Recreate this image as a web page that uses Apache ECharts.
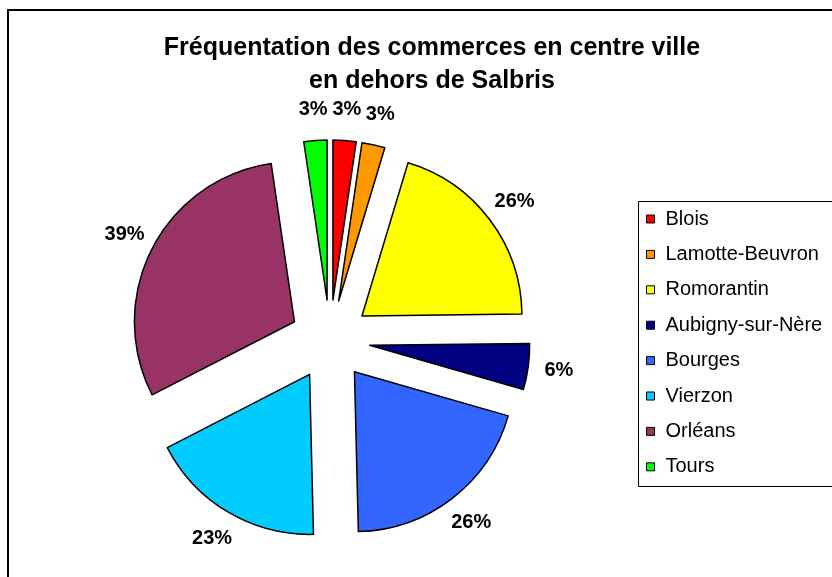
<!DOCTYPE html>
<html>
<head>
<meta charset="utf-8">
<script src="https://cdn.jsdelivr.net/npm/echarts@6/dist/echarts.min.js"></script>
<style>
  html, body { margin: 0; padding: 0; background: #fff; }
  #chart { width: 832px; height: 577px; }
</style>
</head>
<body>
<div id="chart"></div>
<script>
// données
const villes = ['Blois', 'Lamotte-Beuvron', 'Romorantin', 'Aubigny-sur-Nère', 'Bourges', 'Vierzon', 'Orléans', 'Tours'];
const pourcentages = [3, 3, 26, 6, 26, 23, 39, 3];

// couleurs des parts (palette type Excel)
const couleurs = ['#FF0000', '#FF9900', '#FFFF00', '#000080', '#3366FF', '#00CCFF', '#993366', '#00FF00'];

const police = 'Liberation Sans, Arial, sans-serif';

let parts = villes.map((v, i) => ({
    name: v,
    value: pourcentages[i],
    selected: true,
    itemStyle: { color: couleurs[i] }
}));

// anneau invisible qui ne sert qu'à placer les étiquettes
let etiquettes = villes.map((v, i) => ({
    name: v,
    value: pourcentages[i],
    selected: true
}));

let myChart = echarts.init(document.getElementById('chart'));

let option = {
    backgroundColor: '#fff',
    animation: false,
    title: {
        text: 'Fréquentation des commerces en centre ville\nen dehors de Salbris',
        left: 427,
        top: 27,
        textAlign: 'center',
        textStyle: {
            color: '#000',
            fontWeight: 'bold',
            fontFamily: police,
            fontSize: 25,
            lineHeight: 33
        }
    },
    legend: {
        orient: 'vertical',
        left: 646,
        top: 209,
        padding: 0,
        itemGap: 15.4,
        itemWidth: 8,
        itemHeight: 8,
        icon: 'rect',
        selectedMode: false,
        itemStyle: { borderColor: '#000', borderWidth: 1 },
        textStyle: {
            color: '#000',
            fontFamily: police,
            fontSize: 20,
            lineHeight: 20,
            padding: [0, 0, 0, 6]
        },
        data: villes
    },
    graphic: [
        { // cadre du graphique
            type: 'rect',
            shape: { x: 8, y: 10, width: 900, height: 700 },
            style: { fill: 'none', stroke: '#000', lineWidth: 2 },
            silent: true
        },
        { // cadre de la légende
            type: 'rect',
            shape: { x: 638.5, y: 201.5, width: 260, height: 285 },
            style: { fill: 'none', stroke: '#000', lineWidth: 1 },
            silent: true
        }
    ],
    series: [
        {
            type: 'pie',
            center: [330, 340],
            radius: 160,
            startAngle: 90,
            clockwise: true,
            selectedMode: 'multiple',
            selectedOffset: 40,
            silent: true,
            label: { show: false },
            labelLine: { show: false },
            itemStyle: { borderColor: '#000', borderWidth: 1.5 },
            emphasis: { disabled: true },
            data: parts
        },
        {
            type: 'pie',
            center: [330, 340],
            radius: [168, 208],
            startAngle: 90,
            clockwise: true,
            selectedMode: 'multiple',
            selectedOffset: 40,
            silent: true,
            avoidLabelOverlap: false,
            minShowLabelAngle: 0,
            itemStyle: { color: 'rgba(0,0,0,0)', borderWidth: 0 },
            label: {
                show: true,
                position: 'inside',
                formatter: '{c}%',
                padding: [10, 0, 0, 0],
                color: '#000',
                fontWeight: 'bold',
                fontFamily: police,
                fontSize: 20
            },
            labelLayout: { hideOverlap: false },
            labelLine: { show: false },
            emphasis: { disabled: true },
            data: etiquettes
        }
    ]
};

myChart.setOption(option);
</script>
</body>
</html>
